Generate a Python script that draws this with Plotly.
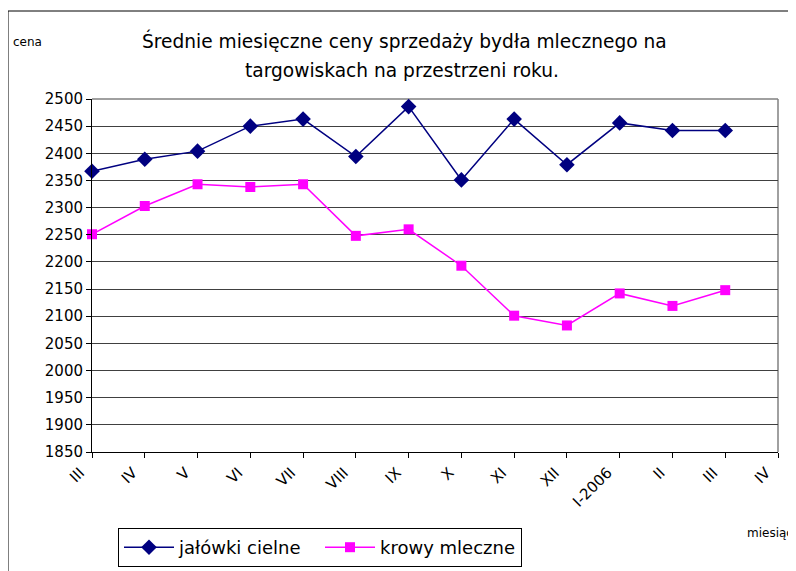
import plotly.graph_objects as go

# months on the x axis (last one has no data)
months = ["III", "IV", "V", "VI", "VII", "VIII", "IX", "X", "XI", "XII", "I-2006", "II", "III", "IV"]

# average monthly prices
jalowki_cielne = [2367, 2389, 2404, 2450, 2463, 2394, 2486, 2351, 2463, 2379, 2456, 2442, 2442]
krowy_mleczne = [2251, 2303, 2343, 2338, 2343, 2248, 2260, 2193, 2101, 2083, 2142, 2119, 2148]

font_name = "DejaVu Sans"
x_pos = list(range(len(months)))

fig = go.Figure()

fig.add_trace(go.Scatter(
    x=x_pos[:len(jalowki_cielne)], y=jalowki_cielne, name="jałówki cielne",
    mode="lines+markers",
    line=dict(color="#000080", width=1.5),
    marker=dict(symbol="diamond", size=12, color="#000080"),
    cliponaxis=False,
))
fig.add_trace(go.Scatter(
    x=x_pos[:len(krowy_mleczne)], y=krowy_mleczne, name="krowy mleczne",
    mode="lines+markers",
    line=dict(color="#FF00FF", width=1.5),
    marker=dict(symbol="square", size=10, color="#FF00FF"),
    cliponaxis=False,
))

# page body adds an 8px offset, so the margins are shifted back by 8
fig.update_layout(
    width=796, height=571, autosize=False,
    margin=dict(l=84, r=26, t=91, b=127, autoexpand=False),
    paper_bgcolor="white", plot_bgcolor="white",
    font=dict(family=font_name, color="black"),
    showlegend=True,
    legend=dict(orientation="h", x=(118 - 92) / 686, y=(452 - 528) / 353, xanchor="left", yanchor="top",
                bordercolor="black", borderwidth=1, font=dict(size=18),
                entrywidth=136, itemwidth=50),
)

fig.update_xaxes(
    range=[0, len(months) - 1], tickvals=x_pos, ticktext=months,
    tickangle=-45, tickfont=dict(size=15), ticklabelshift=-12,
    ticks="outside", ticklen=5, tickcolor="black",
    showline=True, linecolor="black", linewidth=1,
    showgrid=False, zeroline=False, automargin=False,
)
fig.update_yaxes(
    range=[1850, 2500], dtick=50,
    tickfont=dict(size=15),
    ticks="outside", ticklen=5, tickcolor="black",
    showline=True, linecolor="black", linewidth=1,
    showgrid=True, gridcolor="#404040", gridwidth=1,
    zeroline=False, automargin=False,
)

# gray top/right border of plot area
fig.add_shape(type="line", xref="paper", yref="paper", x0=0, x1=1, y0=1, y1=1,
              line=dict(color="#808080", width=1.5), layer="below")
fig.add_shape(type="line", xref="paper", yref="paper", x0=1, x1=1, y0=0, y1=1,
              line=dict(color="#808080", width=1.5), layer="below")

# outer chart frame
fig.add_shape(type="rect", xref="paper", yref="paper",
              x0=(8 - 92) / 686, x1=(805 - 92) / 686, y0=(452 - 580) / 353, y1=(452 - 11) / 353,
              line=dict(color="black", width=1))

# title lines
fig.add_annotation(text="Średnie miesięczne ceny sprzedaży bydła mlecznego na",
                   xref="paper", yref="paper", x=(404 - 92) / 686, y=(452 - 41) / 353,
                   showarrow=False, font=dict(size=18.6), xanchor="center", yanchor="middle")
fig.add_annotation(text="targowiskach na przestrzeni roku.",
                   xref="paper", yref="paper", x=(402 - 92) / 686, y=(452 - 71) / 353,
                   showarrow=False, font=dict(size=18.6), xanchor="center", yanchor="middle")

# axis titles
fig.add_annotation(text="cena", xref="paper", yref="paper", x=(11 - 92) / 686, y=(452 - 42) / 353,
                   showarrow=False, font=dict(size=12), xanchor="left", yanchor="middle")
fig.add_annotation(text="miesiąc", xref="paper", yref="paper", x=(745 - 92) / 686, y=(452 - 533) / 353,
                   showarrow=False, font=dict(size=12), xanchor="left", yanchor="middle")

fig.write_html("out.html")
